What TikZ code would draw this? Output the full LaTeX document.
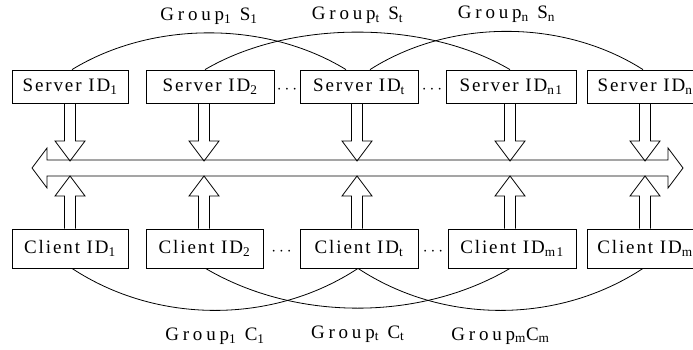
\documentclass[tikz,border=0pt]{standalone}
\usepackage{fontspec}
\setmainfont{Liberation Serif}[LetterSpace=10]
\usetikzlibrary{calc,positioning}
\newcommand{\shaftw}{5.5}
\newcommand{\headw}{15}
\newcommand{\headl}{20}
\tikzset{
    boxsty/.style={draw,rectangle,inner sep=0pt,line width=0.8pt,font=\fontsize{19}{22}\selectfont},
    srvsty/.style={boxsty,minimum height=33},
    clisty/.style={boxsty,minimum height=39},
    dotsty/.style={inner sep=0pt,yshift=-3pt,font=\fontsize{19}{22}\selectfont},
    fatsty/.style={draw,line width=0.8pt,line join=miter},
    grpsty/.style={draw,line width=0.8pt},
    upsty/.style={pos=0.5,above=8pt,inner sep=0pt,font=\fontsize{19}{22}\selectfont\addfontfeature{LetterSpace=20}},
    downsty/.style={pos=0.5,below=17pt,inner sep=0pt,font=\fontsize{19}{22}\selectfont\addfontfeature{LetterSpace=20}},
}
% hollow arrow from a box down to a point on the bus
\newcommand{\srvfat}[2]{%
  \draw[fatsty] ($(#1.south -| #2)+(-\shaftw,0)$) -- ($(#2)+(-\shaftw,-\headl)$)
    -- ($(#2)+(-\headw,-\headl)$) -- (#2) -- ($(#2)+(\headw,-\headl)$)
    -- ($(#2)+(\shaftw,-\headl)$) -- ($(#1.south -| #2)+(\shaftw,0)$);}
% hollow arrow from a box up to a point on the bus
\newcommand{\clifat}[2]{%
  \draw[fatsty] ($(#1.north -| #2)+(-\shaftw,0)$) -- ($(#2)+(-\shaftw,\headl)$)
    -- ($(#2)+(-\headw,\headl)$) -- (#2) -- ($(#2)+(\headw,\headl)$)
    -- ($(#2)+(\shaftw,\headl)$) -- ($(#1.north -| #2)+(\shaftw,0)$);}
\begin{document}
\begin{tikzpicture}[x=1pt,y=-1pt]
  \clip (0,0) rectangle (693,350);

  % server row
  \node[srvsty, minimum width=116] (S1)  at (70,86.5)  {Server ID\textsubscript{1}};
  \node[srvsty, minimum width=128] (S2)  at (210,86.5) {Server ID\textsubscript{2}};
  \node[srvsty, minimum width=118] (St)  at (359,86.5) {Server ID\textsubscript{t}};
  \node[srvsty, minimum width=130] (Sn1) at (511,86.5) {Server ID\textsubscript{n1}};
  \node[srvsty, minimum width=116] (Sn)  at (645,86.5) {Server ID\textsubscript{n}};
  \node[dotsty] (sd1) at ($(S2.east)!0.5!(St.west)$) {$\cdots$};
  \node[dotsty] (sd2) at ($(St.east)!0.5!(Sn1.west)$) {$\cdots$};

  % client row
  \node[clisty, minimum width=116] (C1)  at (70,248.5)  {Client ID\textsubscript{1}};
  \node[clisty, minimum width=117] (C2)  at (204.5,248.5) {Client ID\textsubscript{2}};
  \node[clisty, minimum width=118] (Ct)  at (359,248.5) {Client ID\textsubscript{t}};
  \node[clisty, minimum width=128] (Cm1) at (512,248.5) {Client ID\textsubscript{m1}};
  \node[clisty, minimum width=116] (Cm)  at (645,248.5) {Client ID\textsubscript{m}};
  \node[dotsty] (cd1) at ($(C2.east)!0.5!(Ct.west)$) {$\cdots$};
  \node[dotsty] (cd2) at ($(Ct.east)!0.5!(Cm1.west)$) {$\cdots$};

  % the bus
  \coordinate (busW) at (32,168);
  \coordinate (busE) at (683,168);
  \draw[fatsty] (busW) -- ++(15,-20) -- ++(0,12) -- ($(busE)+(-15,-8)$) -- ++(0,-12)
    -- (busE) -- ++(-15,20) -- ++(0,-12) -- ($(busW)+(15,8)$) -- ++(0,12) -- cycle;

  % where the arrows meet the bus
  \coordinate (s1) at (70,161);  \coordinate (c1) at (70,176);
  \coordinate (s2) at (204,161); \coordinate (c2) at (204,176);
  \coordinate (s3) at (357,161); \coordinate (c3) at (357,176);
  \coordinate (s4) at (510,161); \coordinate (c4) at (510,176);
  \coordinate (s5) at (645,161); \coordinate (c5) at (645,176);

  \srvfat{S1}{s1} \srvfat{S2}{s2} \srvfat{St}{s3} \srvfat{Sn1}{s4} \srvfat{Sn}{s5}
  \clifat{C1}{c1} \clifat{C2}{c2} \clifat{Ct}{c3} \clifat{Cm1}{c4} \clifat{Cm}{c5}

  % server groups
  \draw[grpsty] ([xshift=2]S1.north) .. controls +(80,-49) and +(-80,-49) .. ([xshift=-13]St.north)
    node[upsty] (gs1) {Group\textsubscript{1} S\textsubscript{1}};
  \draw[grpsty] ([xshift=-5]S2.north) .. controls +(85,-50) and +(-85,-50) .. ([xshift=-1]Sn1.north)
    node[upsty] (gst) {Group\textsubscript{t} S\textsubscript{t}};
  \draw[grpsty] ([xshift=11]St.north) .. controls +(80,-51) and +(-80,-51) .. ([xshift=-2]Sn.north)
    node[upsty] (gsn) {Group\textsubscript{n} S\textsubscript{n}};

  % client groups
  \draw[grpsty] ([xshift=2]C1.south) .. controls +(85,56) and +(-85,56) .. ([xshift=-1]Ct.south)
    node[downsty] (gc1) {Group\textsubscript{1} C\textsubscript{1}};
  \draw[grpsty] ([xshift=1]C2.south) .. controls +(90,53) and +(-90,53) .. ([xshift=-2]Cm1.south)
    node[downsty] (gct) {Group\textsubscript{t} C\textsubscript{t}};
  \draw[grpsty] ([xshift=-1]Ct.south) .. controls +(85,56) and +(-85,56) .. ([xshift=-2]Cm.south)
    node[downsty] (gcm) {Group\textsubscript{m}C\textsubscript{m}};
\end{tikzpicture}
\end{document}
